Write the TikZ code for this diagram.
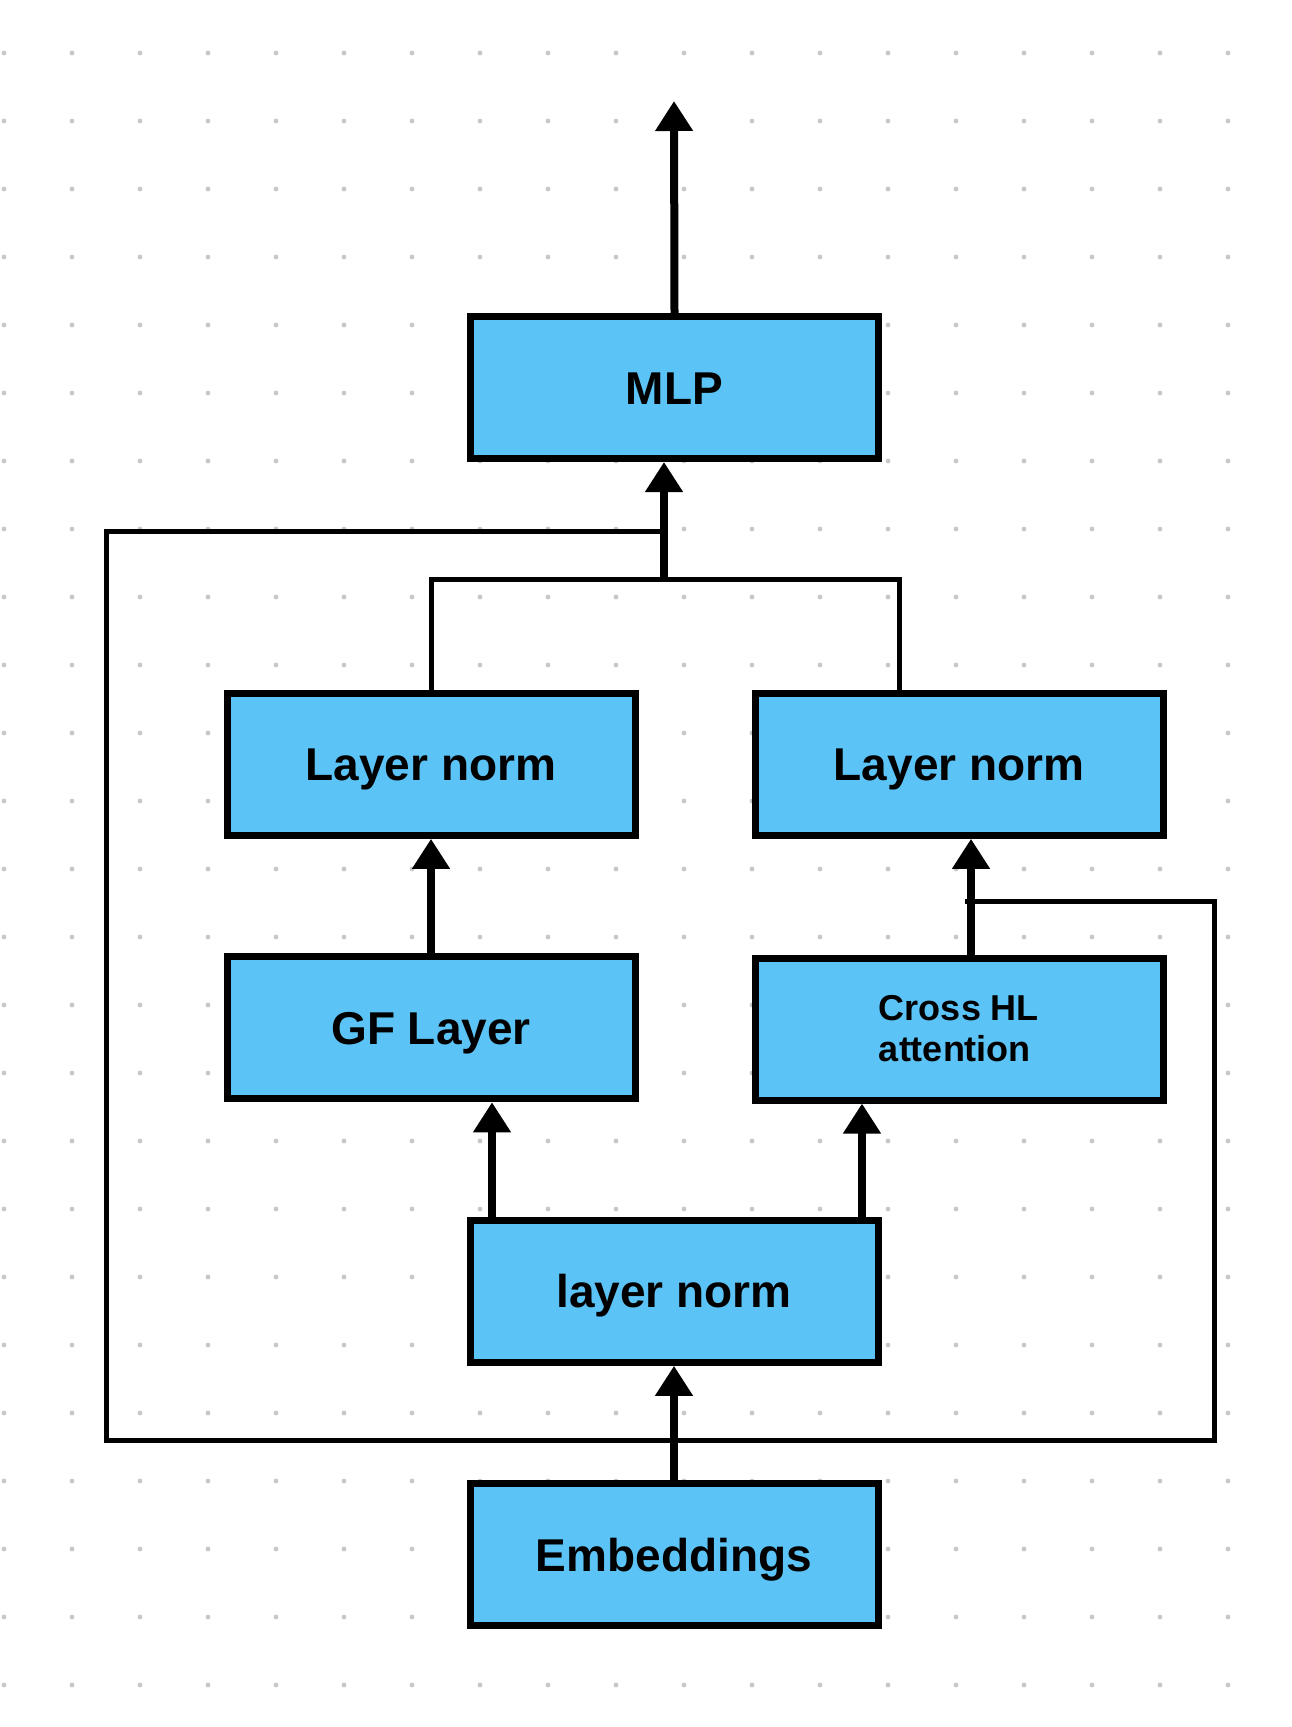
\documentclass[tikz,border=0pt]{standalone}
\usepackage{fontspec}
\setmainfont{Liberation Sans}
\usetikzlibrary{arrows.meta}
\definecolor{boxblue}{RGB}{91,195,245}
\definecolor{dotgrey}{RGB}{200,200,200}
\tikzset{
	box/.style={draw=black, line width=7pt, fill=boxblue, minimum width=408pt, minimum height=142pt, inner sep=0pt},
	block/.style={box, font=\bfseries\fontsize{46}{54}\selectfont, text height=33pt, text depth=0pt},
	flow/.style={line width=8pt, -{Triangle[width=36pt,length=30pt]}},
	wire/.style={line width=5pt},
}

\begin{document}
\begin{tikzpicture}[x=1pt,y=-1pt]
	\fill[white] (0,0) rectangle (1292,1727);
	\useasboundingbox (0,0) rectangle (1292,1727);
	\foreach \i in {0,...,18}
		\foreach \j in {0,...,24}
			\fill[dotgrey] (4+68*\i,53+68*\j) circle (2.4pt);

	\node[block] (mlp) at (674.5,387.5) {MLP};
	\node[block] (normL) at (431,764.3) {Layer norm};
	\node[block] (normR) at (959,764.3) {Layer norm};
	\node[block] (gf) at (431,1027.8) {GF Layer};
	\node[box, align=left, font=\bfseries\fontsize{36}{41}\selectfont] (cross) at (959,1029) {Cross HL\\attention};
	\node[block] (norm) at (674,1291.3) {layer norm};
	\node[block] (emb) at (674,1554.7) {Embeddings};

	\coordinate (out) at (674,101);
	\coordinate (join) at (664,579);
	\coordinate (skipL) at (106,531);
	\coordinate (skipB) at (106,1440);
	\coordinate (skipR) at (1214,1440);
	\coordinate (skipT) at (1214,901);
	\coordinate (tapR) at (965,901);

	\draw[flow] (mlp.north) -- (out);
	\draw[flow] (join) -- (join |- mlp.south);
	\draw[wire] (normL.north) |- (join) -| ([xshift=-60pt]normR.north);
	\draw[wire] (join |- skipL) -- (skipL) -- (skipB) -- (skipR) -- (skipT) -- (tapR);
	\draw[flow] (gf.north) -- (normL.south);
	\draw[flow] ([xshift=12pt]cross.north) -- ([xshift=12pt]normR.south);
	\draw[flow] ([xshift=-182pt]norm.north) -- ([xshift=61pt]gf.south);
	\draw[flow] ([xshift=188pt]norm.north) -- ([xshift=-97pt]cross.south);
	\draw[flow] (emb.north) -- (norm.south);
\end{tikzpicture}
\end{document}
